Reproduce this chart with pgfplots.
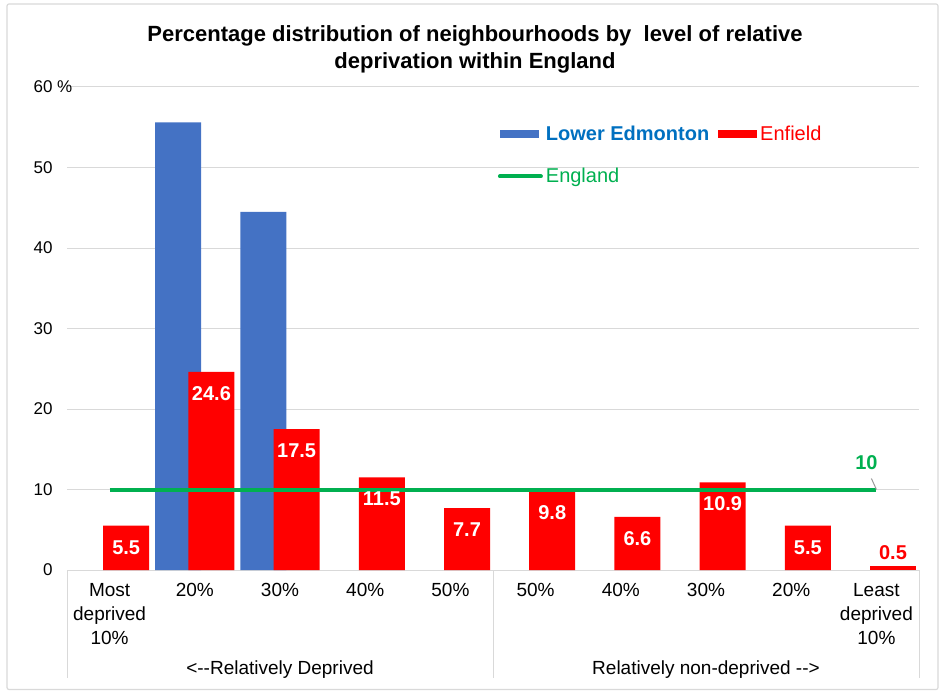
\documentclass[border=0pt]{standalone}
\usepackage{fontspec}
\setmainfont{Liberation Sans}
\usepackage{pgfplots}
\pgfplotsset{compat=1.18}
\definecolor{edblue}{HTML}{4472C4}
\definecolor{enred}{HTML}{FF0000}
\definecolor{enggreen}{HTML}{00B050}
\definecolor{legblue}{HTML}{0070C0}
\definecolor{gridgray}{HTML}{D9D9D9}
\begin{document}
\begin{tikzpicture}[x=1pt,y=1pt]
\useasboundingbox (0,0) rectangle (945,691);
\draw[gridgray, line width=1.2pt, rounded corners=2pt] (7,1.5) rectangle (938,687);
\node[font=\fontsize{22}{27}\selectfont\bfseries, align=center] at (475,641.5)
  {Percentage distribution of neighbourhoods by\ \ level of relative\\deprivation within England};
\begin{axis}[
  at={(67pt,121pt)}, anchor=south west,
  width=852pt, height=483pt, scale only axis,
  xmin=-0.5, xmax=9.5, ymin=0, ymax=60,
  ybar, bar width=0.54,
  clip=false,
  axis x line*=bottom, axis y line*=left,
  x axis line style={gridgray, line width=1pt},
  y axis line style={draw=none},
  major tick length=0pt,
  ymajorgrids, grid style={gridgray, line width=1pt},
  /pgf/number format/assume math mode=true,
  ytick={0,10,20,30,40,50,60},
  yticklabels={0,10,20,30,40,50,60\rlap{ \%}},
  yticklabel style={font=\fontsize{17}{20}\selectfont, anchor=east, xshift=-11pt},
  xtick={0,...,9},
  xticklabels={{Most\\deprived\\10\%},20\%,30\%,40\%,50\%,50\%,40\%,30\%,20\%,{Least\\deprived\\10\%}},
  xticklabel style={align=center, font=\fontsize{19}{24}\selectfont, anchor=north, yshift=-10pt},
  legend columns=2, legend cell align=left,
  legend style={at={(0.502,0.927)}, anchor=north west, draw=none, fill=none,
    font=\fontsize{20}{24}\selectfont, column sep=0pt, row sep=22pt,
    nodes={inner xsep=3pt},
    /tikz/every even column/.append style={column sep=6pt}},
  nodes near coords,
  nodes near coords style={font=\fontsize{20}{22}\selectfont\bfseries, white, anchor=north, yshift=-11pt},
]
\addplot[fill=edblue, draw=none, bar shift=-0.195,
  nodes near coords={},
  legend image code/.code={\fill[edblue] (0pt,-4pt) rectangle (39pt,4pt);}]
  coordinates {(1,55.6) (2,44.5)};
\addlegendentry{\textcolor{legblue}{\textbf{Lower Edmonton}}}
\addplot[fill=enred, draw=none, bar shift=0.195,
  legend image code/.code={\fill[enred] (0pt,-4pt) rectangle (39pt,4pt);}]
  coordinates {(0,5.5) (1,24.6) (2,17.5) (3,11.5) (4,7.7) (5,9.8) (6,6.6) (7,10.9) (8,5.5)};
\addlegendentry{\textcolor{enred}{Enfield}}
\addplot[fill=enred, draw=none, bar shift=0.195, forget plot,
  nodes near coords style={enred, anchor=south, yshift=14pt}]
  coordinates {(9,0.5)};
\addplot[enggreen, line width=4pt, sharp plot, nodes near coords={},
  legend image code/.code={\draw[enggreen, line width=4pt, line cap=round] (0pt,0pt) -- (41pt,0pt);}]
  coordinates {(0,10) (9,10)};
\addlegendentry{\textcolor{enggreen}{England}}
\node[font=\fontsize{20}{22}\selectfont\bfseries, text=enggreen] at (axis cs:9,10) [xshift=-10pt, yshift=27pt] {10};
\draw[gray!80, line width=1pt] ([xshift=-5pt,yshift=11pt]axis cs:9,10) -- (axis cs:9,10);
\draw[gridgray, line width=1pt] (axis cs:-0.5,0) -- ([yshift=-108pt]axis cs:-0.5,0);
\draw[gridgray, line width=1pt] (axis cs:4.5,0) -- ([yshift=-108pt]axis cs:4.5,0);
\draw[gridgray, line width=1pt] (axis cs:9.5,0) -- ([yshift=-108pt]axis cs:9.5,0);
\node[font=\fontsize{19}{22}\selectfont] at (axis cs:2,0) [yshift=-100pt] {<-{}-Relatively Deprived};
\node[font=\fontsize{19}{22}\selectfont] at (axis cs:7,0) [yshift=-100pt] {Relatively non-deprived -{}->};
\end{axis}
\end{tikzpicture}
\end{document}
